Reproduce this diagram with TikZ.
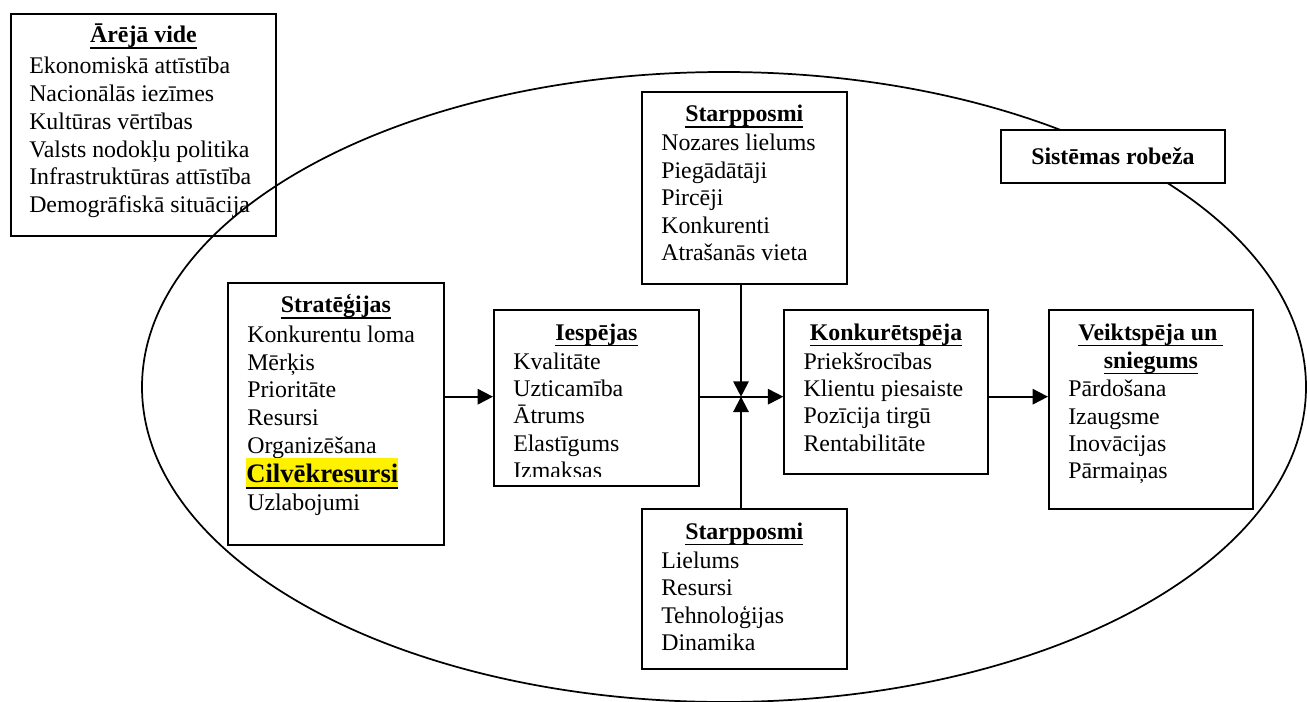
\documentclass[tikz,border=0pt]{standalone}
\usepackage{fontspec}
\setmainfont{Liberation Serif}
\usetikzlibrary{arrows.meta}
\usetikzlibrary{calc}
\usetikzlibrary{positioning}

% thick underline
\newcommand{\undl}[1]{\leavevmode\setbox0\hbox{#1}\rlap{\raisebox{-4.4pt}{\rule{\wd0}{1.1pt}}}\box0}

\tikzset{
  panel/.style 2 args={draw, line width=1.4pt, inner sep=0pt, anchor=north west,
    minimum width=#1*0.75pt, minimum height=#2*0.75pt},
  head/.style={font=\fontsize{17.9}{20.7}\selectfont\bfseries, inner sep=0pt, anchor=base},
  item/.style={font=\fontsize{17.9}{20.7}\selectfont, inner sep=0pt, anchor=base west},
  link/.style={line width=1.4pt, -{Triangle[length=11.5pt,width=11.5pt]}}
}

\begin{document}
\begin{tikzpicture}[x=0.75pt,y=-0.75pt]
      \useasboundingbox (0,0) rectangle (1307,702);

      % system boundary
      \draw[line width=1.3pt] (724,387) ellipse [x radius=582, y radius=315];

      % boxes
      \node[panel={265}{222.3}] (ext) at (10,12.7) {};
      \node[panel={216}{262}] (strat) at (227,282) {};
      \node[panel={205}{176}] (iesp) at (493,309.3) {};
      \node[panel={203.7}{164}] (konk) at (783.3,309.3) {};
      \node[panel={204}{198.7}] (veikt) at (1048,309.3) {};
      \node[panel={204.7}{192}] (nozare) at (641,90.7) {};
      \node[panel={204.7}{160}] (uzn) at (641,508.3) {};
      \node[panel={224}{52.7}, fill=white, font=\fontsize{17.9}{20.7}\selectfont\bfseries] (robeza) at (1000,129) {Sistēmas robeža};
      \coordinate (jn) at (741,396.7);

      % headings
      \node[head] (ext-h) at ($(ext.north)+(0,30)$) {\undl{Ārējā vide}};
      \node[head] (strat-h) at ($(strat.north)+(0,31)$) {\undl{Stratēģijas}};
      \node[head] (iesp-h) at ($(iesp.north)+(0,31)$) {\undl{Iespējas}};
      \node[head] (konk-h) at ($(konk.north)+(0,31)$) {\undl{Konkurētspēja}};
      \node[head] (veikt-h) at ($(veikt.north)+(0,31)$) {\undl{Veiktspēja un\ }};
      \node[head] (veikt-h2) at ($(veikt.north)+(0,59)$) {\undl{sniegums}};
      \node[head] (nozare-h) at ($(nozare.north)+(0,31)$) {\undl{Starpposmi}};
      \node[head] (uzn-h) at ($(uzn.north)+(0,31)$) {\undl{Starpposmi}};

      % lists
      \foreach \t [count=\i from 0] in {Ekonomiskā attīstība, Nacionālās iezīmes, Kultūras vērtības,
          Valsts nodokļu politika, Infrastruktūras attīstība, Demogrāfiskā situācija}
      \node[item] (ext-\i) at ($(ext.north west)+(19,61.3+27.7*\i)$) {\t};

      \foreach \t [count=\i from 0] in {Konkurentu loma, Mērķis, Prioritāte, Resursi, Organizēšana}
      \node[item] (strat-\i) at ($(strat.north west)+(20,60.7+27.6*\i)$) {\t};
      \node[item, font=\fontsize{20}{24}\selectfont\bfseries, fill=yellow,
        text height=18.3pt, text depth=3.6pt] (strat-5) at ($(strat.north west)+(19,200.7)$) {\undl{Cilvēkresursi}};
      \node[item] (strat-6) at ($(strat.north west)+(20,228.7)$) {Uzlabojumi};

      \begin{scope}
        \clip (iesp.north west) rectangle ($(iesp.south east)+(0,-11)$);
        \foreach \t [count=\i from 0] in {Kvalitāte, Uzticamība, Ātrums, Elastīgums, Izmaksas}
        \node[item] (iesp-\i) at ($(iesp.north west)+(20,60+27.3*\i)$) {\t};
      \end{scope}

      \foreach \t [count=\i from 0] in {Priekšrocības, Klientu piesaiste, Pozīcija tirgū, Rentabilitāte}
      \node[item] (konk-\i) at ($(konk.north west)+(20,60+27.3*\i)$) {\t};

      \foreach \t [count=\i from 0] in {Pārdošana, Izaugsme, Inovācijas, Pārmaiņas}
      \node[item] (veikt-\i) at ($(veikt.north west)+(20,87.4+27.3*\i)$) {\t};

      \foreach \t [count=\i from 0] in {Nozares lielums, Piegādātāji, Pircēji, Konkurenti, Atrašanās vieta}
      \node[item] (nozare-\i) at ($(nozare.north west)+(20,60.3+27.5*\i)$) {\t};

      \foreach \t [count=\i from 0] in {Lielums, Resursi, Tehnoloģijas, Dinamika}
      \node[item] (uzn-\i) at ($(uzn.north west)+(20,60+27.5*\i)$) {\t};

      % arrows
      \draw[link] (strat.east |- jn) -- (iesp.west |- jn);
      \draw[link] (iesp.east |- jn) -- (konk.west |- jn);
      \draw[link] (nozare.south -| jn) -- (jn);
      \draw[link] (uzn.north -| jn) -- (jn);
      \draw[link] (konk.east |- jn) -- (veikt.west |- jn);
\end{tikzpicture}
\end{document}
